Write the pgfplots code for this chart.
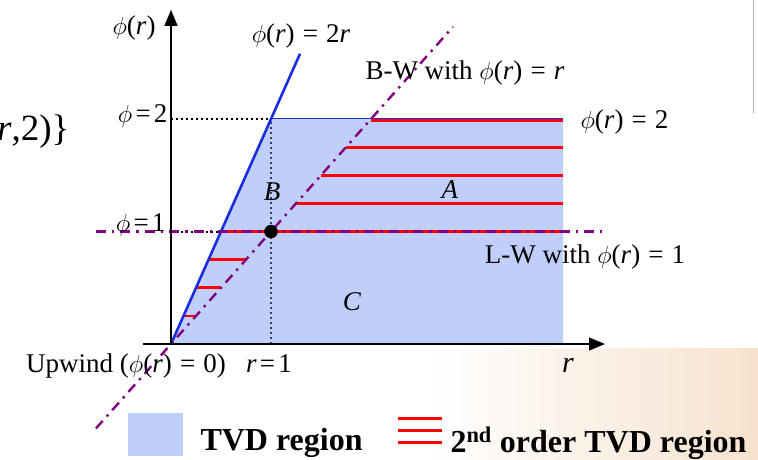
\documentclass[border=0pt]{standalone}
\usepackage{pgfplots}
\pgfplotsset{compat=1.18}
\usepackage{fontspec}
\setmainfont{Liberation Serif}
\usetikzlibrary{arrows.meta}

\definecolor{tvdfill}{RGB}{192,206,250}
\definecolor{limblue}{RGB}{25,45,225}
\definecolor{bwpurple}{RGB}{128,0,128}
\definecolor{peach}{RGB}{246,226,206}
\definecolor{dotgrey}{RGB}{50,60,100}

\newcommand{\ph}{$\phi$}
\newcommand{\rr}{\textit{r}}
\newcommand{\eq}{\hspace{0.3em}=\hspace{0.3em}}
\newcommand{\eqn}{\hspace{0.12em}=\hspace{0.12em}}
\newcommand{\lab}{\fontsize{27}{30}\selectfont}

\begin{document}
\begin{tikzpicture}
\begin{axis}[name=main, hide axis, scale only axis,
  x=100pt, y=112.5pt,
  xmin=-1.71, xmax=5.87, ymin=-1.022, ymax=3.058,
  clip=false]

% slide background in the lower right
\shade[left color=white, right color=peach] (axis cs:2.6,-1.022) rectangle (axis cs:5.87,-0.036);
\draw[gray!60, line width=0.8pt] (axis cs:5.82,3.058) -- (axis cs:5.82,2.05);

% TVD region
\addplot[fill=tvdfill, draw=none] coordinates {(0,0) (1,2) (3.92,2)} \closedcycle;

% guide lines
\draw[black, line width=2pt, dash pattern=on 2pt off 3pt] (axis cs:0,2) -- (axis cs:1,2);
\draw[black, line width=2pt, dash pattern=on 2pt off 3pt] (axis cs:0,1) -- (axis cs:0.5,1);
\draw[dotgrey, line width=2pt, dash pattern=on 2pt off 3pt] (axis cs:1,0) -- (axis cs:1,2);

% second order TVD region (hatching)
\addplot[red, line width=2.8pt] coordinates {(0.125,0.25) (0.25,0.25)};
\addplot[red, line width=2.8pt] coordinates {(0.25,0.5) (0.5,0.5)};
\addplot[red, line width=2.8pt] coordinates {(0.375,0.75) (0.75,0.75)};
\addplot[red, line width=2.8pt] coordinates {(0.5,1) (3.92,1)};
\addplot[red, line width=2.8pt] coordinates {(1.25,1.25) (3.92,1.25)};
\addplot[red, line width=2.8pt] coordinates {(1.5,1.5) (3.92,1.5)};
\addplot[red, line width=2.8pt] coordinates {(1.75,1.75) (3.92,1.75)};
\addplot[red, line width=2.8pt] coordinates {(2,1.985) (3.92,1.985)};

% limiter boundaries
\addplot[limblue, line width=1.5pt] coordinates {(1,2.005) (3.92,2.005)};
\addplot[limblue, line width=2.6pt] coordinates {(0,0) (1.29,2.58)};

% Beam-Warming and Lax-Wendroff
\addplot[bwpurple, line width=2.4pt, dash pattern=on 10pt off 6pt on 2.4pt off 6pt] coordinates {(-0.75,-0.75) (2.82,2.82)};
\addplot[bwpurple, line width=2.4pt, dash pattern=on 10pt off 6pt on 2.4pt off 6pt] coordinates {(-0.75,1) (4.34,1)};

\addplot[only marks, mark=*, mark size=6.5pt, black] coordinates {(1,1)};

% axes
\draw[black, line width=1.3pt, -{Triangle[length=16pt,width=13pt]}] (axis cs:-0.28,0) -- (axis cs:4.34,0);
\draw[black, line width=1.3pt, -{Triangle[length=16pt,width=13pt]}] (axis cs:0,0) -- (axis cs:0,2.97);

% labels
\node[font=\fontsize{37}{40}\selectfont, anchor=base east] at (axis cs:-0.98,1.813) {\rr,2)\}};
\node[font=\lab, anchor=base] at (axis cs:-0.37,2.747) {\ph(\rr)};
\node[font=\lab, anchor=base] at (axis cs:1.30,2.676) {\ph(\rr)\eq2\rr};
\node[font=\lab, anchor=base] at (axis cs:2.94,2.347) {B-W with \ph(\rr)\eq\rr};
\node[font=\lab, anchor=base west] at (axis cs:4.06,1.92) {\ph(\rr)\eq2};
\node[font=\lab, anchor=base east] at (axis cs:0.0,1.973) {\ph\eqn2};
\node[font=\lab, anchor=base east] at (axis cs:-0.02,0.996) {\ph\eqn1};
\node[font=\lab, anchor=base] at (axis cs:1.01,1.28) {\textit{B}};
\node[font=\lab, anchor=base] at (axis cs:2.79,1.298) {\textit{A}};
\node[font=\lab, anchor=base] at (axis cs:1.81,0.302) {\textit{C}};
\node[font=\lab, anchor=base] at (axis cs:4.14,0.72) {L-W with \ph(\rr)\eq1};
\node[font=\lab, anchor=base] at (axis cs:-0.45,-0.249) {Upwind (\ph(\rr)\eq0)};
\node[font=\lab, anchor=base] at (axis cs:0.98,-0.249) {\rr\eqn1};
\node[font=\fontsize{30}{32}\selectfont, anchor=base] at (axis cs:3.97,-0.249) {\rr};

% legend
\fill[tvdfill] (axis cs:-0.43,-0.616) rectangle (axis cs:0.12,-0.991);
\node[font=\bfseries\fontsize{32}{36}\selectfont, anchor=base west] at (axis cs:0.26,-0.942) {TVD region};
\draw[red, line width=2.5pt] (axis cs:2.27,-0.661) -- (axis cs:2.71,-0.661);
\draw[red, line width=2.5pt] (axis cs:2.27,-0.768) -- (axis cs:2.71,-0.768);
\draw[red, line width=2.5pt] (axis cs:2.27,-0.875) -- (axis cs:2.71,-0.875);
\node[font=\bfseries\fontsize{32}{36}\selectfont, anchor=base west] at (axis cs:2.76,-0.96) {2\textsuperscript{nd} order TVD region};
\end{axis}
\pgfresetboundingbox
\path[use as bounding box] (main.south west) rectangle (main.north east);
\end{tikzpicture}
\end{document}
